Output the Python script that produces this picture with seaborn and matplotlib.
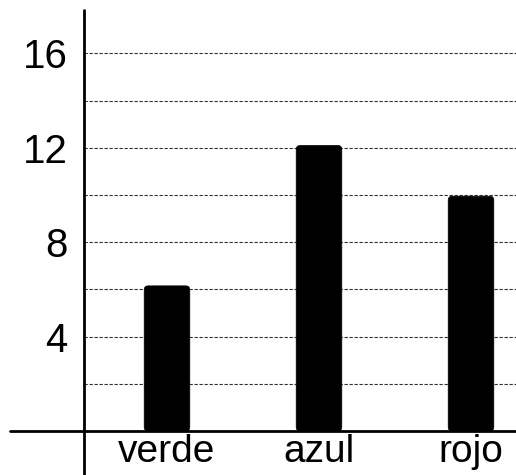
import matplotlib
matplotlib.use("Agg")
import matplotlib.pyplot as plt
from matplotlib.patches import FancyBboxPatch
import seaborn as sns
import pandas as pd

# datos
colores = ['verde', 'azul', 'rojo']
valores = [6.15, 12.1, 9.95]
ticks_mayores = [4, 8, 12, 16]
ticks_menores = [2, 6, 10, 14]

df = pd.DataFrame({'color': colores, 'valor': valores})

sns.set_style('white')
plt.rcParams['font.family'] = ['Liberation Sans', 'DejaVu Sans']

fig = plt.figure(figsize=(5.16, 4.75), dpi=100)
ax = fig.add_axes([84 / 516, 1 - 431 / 475, 1 - 84 / 516, 421 / 475])

sns.barplot(data=df, x='color', y='valor', color='black', width=0.3,
            edgecolor='black', linewidth=0, ax=ax)

ax.set_xlim(-0.546, 2.296)
ax.set_ylim(0, 17.84)

# esquinas redondeadas en las barras
px_x = 432 / (2.296 + 0.546)
px_y = 421 / 17.84
for p in list(ax.patches):
    x, y = p.get_x(), p.get_y()
    w, h = p.get_width(), p.get_height()
    r = FancyBboxPatch((x, y), w, h, boxstyle='round,pad=0,rounding_size=%f' % (4 / px_x),
                       mutation_aspect=px_x / px_y, facecolor='black', edgecolor='black',
                       linewidth=0.5, zorder=3)
    p.remove()
    ax.add_patch(r)

ax.set_yticks(ticks_mayores)
ax.set_yticks(ticks_menores, minor=True)
ax.grid(True, which='both', axis='y', linestyle=(0, (3, 1.5)), color='#333333', linewidth=0.8)
ax.set_axisbelow(True)

ax.tick_params(axis='both', which='both', length=0, labelcolor='black')
ax.tick_params(axis='y', pad=12, labelsize=29)
ax.tick_params(axis='x', pad=2, labelsize=28)
ax.set_xlabel('')
ax.set_ylabel('')

# ejes: el vertical baja hasta el borde, el horizontal se alarga a la izquierda
for s in ['top', 'right', 'left', 'bottom']:
    ax.spines[s].set_visible(False)
ax.plot([0, 0], [-44 / 421, 1], transform=ax.transAxes, color='black', lw=2, clip_on=False)
ax.plot([-74 / 432, 1], [0, 0], transform=ax.transAxes, color='black', lw=2, clip_on=False)

fig.savefig('out.png', dpi=100)
